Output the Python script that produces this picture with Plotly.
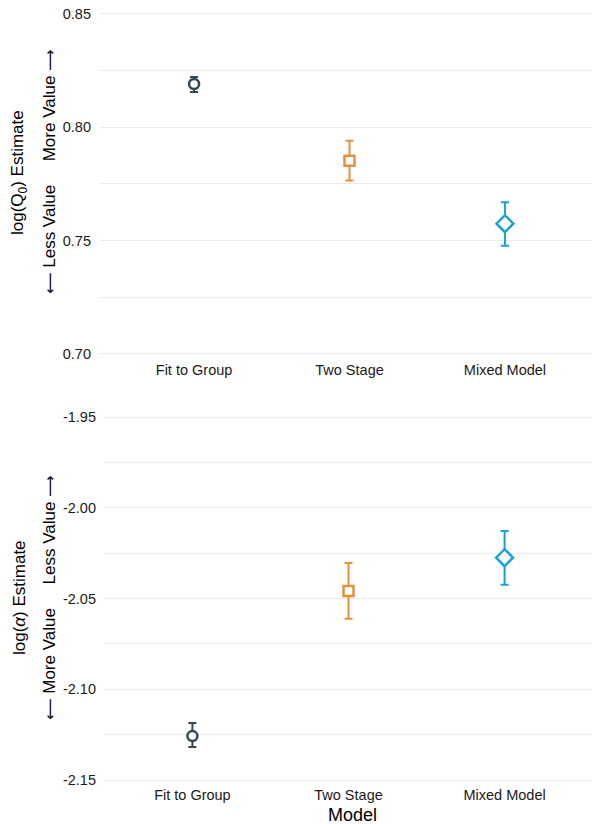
import plotly.graph_objects as go

# Model comparison: estimates with intervals for two demand parameters
models = ["Fit to Group", "Two Stage", "Mixed Model"]
colors = ["#36474F", "#E3913F", "#18A3D6"]
symbols = ["circle", "square", "diamond"]
sizes = [10, 10, 13]

q0_est = [0.8191, 0.7853, 0.7575]
q0_lo = [0.8156, 0.7765, 0.7478]
q0_hi = [0.8222, 0.7941, 0.7669]

alpha_est = [-2.1258, -2.0459, -2.0275]
alpha_lo = [-2.1318, -2.0612, -2.0424]
alpha_hi = [-2.1186, -2.0304, -2.0128]

q0_ticks = [0.70, 0.75, 0.80, 0.85]
alpha_ticks = [-2.15, -2.10, -2.05, -2.00, -1.95]

W, H = 592, 824
FONT = "Liberation Sans, Arial, sans-serif"
ARROW_FONT = "DejaVu Sans"
GRID = "#EBEBEB"

fig = go.Figure()

def add_panel(est, lo, hi, xa, ya):
    for i, m in enumerate(models):
        fig.add_trace(go.Scatter(
            x=[i], y=[est[i]], xaxis=xa, yaxis=ya,
            mode="markers",
            marker=dict(symbol=symbols[i], size=sizes[i], color="white",
                        line=dict(color=colors[i], width=2.5)),
            error_y=dict(type="data", symmetric=False,
                         array=[hi[i] - est[i]], arrayminus=[est[i] - lo[i]],
                         color=colors[i], thickness=2, width=4),
            showlegend=False, name=m,
        ))

add_panel(q0_est, q0_lo, q0_hi, "x", "y")
add_panel(alpha_est, alpha_lo, alpha_hi, "x2", "y2")

def py(px):
    return 1 - px / H

def panel_y(ticks, top_px, bottom_px, pad=0.002):
    """Pad the value range slightly so the edge gridlines still draw,
    and shift the domain so tick values keep their pixel positions."""
    lo, hi = min(ticks), max(ticks)
    scale = (bottom_px - top_px) / (hi - lo)
    dom = [py(bottom_px + pad * scale), py(top_px - pad * scale)]
    return dom, [lo - pad, hi + pad]

q0_dom, q0_rng = panel_y(q0_ticks, 14, 354)
al_dom, al_rng = panel_y(alpha_ticks, 417, 780)

xcommon = dict(
    tickmode="array", tickvals=[0, 1, 2], ticktext=models,
    showgrid=False, zeroline=False, showline=False, automargin=False,
    ticks="", ticklabelstandoff=1,
    tickfont=dict(family=FONT, size=14.5, color="#1a1a1a"),
)
ycommon = dict(
    tickmode="array", showgrid=True, gridcolor=GRID, gridwidth=1.3,
    zeroline=False, showline=False, ticks="", ticklabelstandoff=8,
    automargin=False,
    tickfont=dict(family=FONT, size=14.5, color="#1a1a1a"),
)

fig.update_layout(
    width=W, height=H,
    margin=dict(l=0, r=0, t=0, b=0, autoexpand=False),
    plot_bgcolor="white", paper_bgcolor="white",
    xaxis=dict(domain=[100 / W, 1], range=[-0.605, 2.56], anchor="y", **xcommon),
    yaxis=dict(domain=q0_dom, range=q0_rng, anchor="x",
               tickvals=q0_ticks, ticktext=[f"{v:.2f}" for v in q0_ticks],
               minor=dict(tick0=0.70, dtick=0.025, showgrid=True,
                          gridcolor=GRID, gridwidth=1, ticks=""),
               **ycommon),
    xaxis2=dict(domain=[105 / W, 1], range=[-0.56, 2.56], anchor="y2", **xcommon),
    yaxis2=dict(domain=al_dom, range=al_rng, anchor="x2",
                tickvals=alpha_ticks, ticktext=[f"{v:.2f}" for v in alpha_ticks],
                minor=dict(tick0=-2.15, dtick=0.025, showgrid=True,
                           gridcolor=GRID, gridwidth=1, ticks=""),
                **ycommon),
)

def ylabel(text, xpx, ypx, size):
    fig.add_annotation(text=text, xref="paper", yref="paper",
                       x=xpx / W, y=py(ypx), xanchor="center", yanchor="middle",
                       textangle=-90, showarrow=False,
                       font=dict(family=FONT, size=size, color="#000000"))

def arrow(ch):
    return f"<span style='font-family:{ARROW_FONT};font-size:15px'>{ch}</span>"

GAP = "\u00a0" * 5
SP = "\u00a0"
LEFT, RIGHT = "\u27f5", "\u27f6"
ylabel("log(Q<sub>0</sub>) Estimate", 19, 173, 17)
ylabel(f"{arrow(LEFT)}{SP}Less Value{GAP}More Value{SP}{arrow(RIGHT)}", 49, 172, 17)
ylabel("log(<i>\u03b1</i>) Estimate", 19, 598, 17)
ylabel(f"{arrow(LEFT)}{SP}More Value{GAP}Less Value{SP}{arrow(RIGHT)}", 49, 598, 17)

fig.add_annotation(text="Model", xref="paper", yref="paper",
                   x=352 / W, y=py(815), xanchor="center", yanchor="middle",
                   showarrow=False, font=dict(family=FONT, size=18, color="#000000"))

fig.write_html("out.html")
